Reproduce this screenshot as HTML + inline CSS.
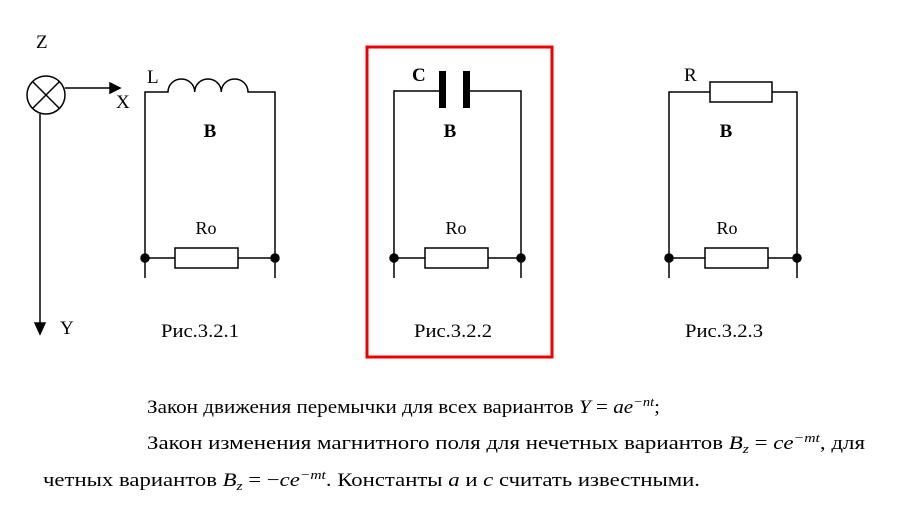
<!DOCTYPE html>
<html><head><style>body{margin:0;background:#fff}svg{display:block}</style></head>
<body>
<svg width="908" height="523" viewBox="0 0 908 523" xmlns="http://www.w3.org/2000/svg" font-family="Liberation Serif, serif" fill="none" stroke="#000" stroke-width="1.5">
<!-- axes -->
<text x="36" y="48" font-size="19" fill="#000" stroke="none">Z</text>
<circle cx="46" cy="95" r="19"/>
<line x1="33" y1="82" x2="59" y2="108"/><line x1="59" y1="82" x2="33" y2="108"/>
<line x1="65" y1="88" x2="110" y2="88"/>
<polygon points="110,83 120,88 110,93" fill="#000"/>
<text x="116" y="108" font-size="19" fill="#000" stroke="none">X</text>
<line x1="40" y1="114" x2="40" y2="325"/>
<polygon points="35,323 40,334 45,323" fill="#000"/>
<text x="60" y="334" font-size="19" fill="#000" stroke="none">Y</text>
<!-- circuit 1 -->
<text x="147" y="83" font-size="19" fill="#000" stroke="none">L</text>
<path d="M145,278 V92 H168 A13.3,13 0 0 1 194.7,92 A13.3,13 0 0 1 221.3,92 A13.3,13 0 0 1 248,92 H275 V278"/>
<text x="210" y="137" font-size="19" font-weight="bold" fill="#000" stroke="none" text-anchor="middle">B</text>
<text x="206" y="234" font-size="18" fill="#000" stroke="none" text-anchor="middle">Ro</text>
<line x1="145" y1="258" x2="175" y2="258"/><line x1="238" y1="258" x2="275" y2="258"/>
<rect x="175" y="248" width="63" height="20"/>
<circle cx="145" cy="258" r="4" fill="#000"/><circle cx="275" cy="258" r="4" fill="#000"/>
<text x="200" y="337" font-size="19" fill="#000" stroke="none" text-anchor="middle" textLength="78" lengthAdjust="spacingAndGlyphs">Рис.3.2.1</text>
<!-- circuit 2 -->
<rect x="367" y="47" width="185" height="310" stroke="#e00" stroke-width="3"/>
<text x="412" y="81" font-size="19" font-weight="bold" fill="#000" stroke="none">C</text>
<path d="M394,278 V91 H442 M466,91 H521 V278"/>
<rect x="439" y="71" width="7" height="37" fill="#000" stroke="none"/>
<rect x="463" y="71" width="7" height="37" fill="#000" stroke="none"/>
<text x="450" y="137" font-size="19" font-weight="bold" fill="#000" stroke="none" text-anchor="middle">B</text>
<text x="456" y="234" font-size="18" fill="#000" stroke="none" text-anchor="middle">Ro</text>
<line x1="394" y1="258" x2="425" y2="258"/><line x1="488" y1="258" x2="521" y2="258"/>
<rect x="425" y="248" width="63" height="20"/>
<circle cx="394" cy="258" r="4" fill="#000"/><circle cx="521" cy="258" r="4" fill="#000"/>
<text x="453" y="337" font-size="19" fill="#000" stroke="none" text-anchor="middle" textLength="78" lengthAdjust="spacingAndGlyphs">Рис.3.2.2</text>
<!-- circuit 3 -->
<text x="684" y="81" font-size="19" fill="#000" stroke="none">R</text>
<path d="M669,278 V92 H710 M772,92 H797 V278"/>
<rect x="710" y="82" width="62" height="20"/>
<text x="726" y="137" font-size="19" font-weight="bold" fill="#000" stroke="none" text-anchor="middle">B</text>
<text x="727" y="234" font-size="18" fill="#000" stroke="none" text-anchor="middle">Ro</text>
<line x1="669" y1="258" x2="705" y2="258"/><line x1="768" y1="258" x2="797" y2="258"/>
<rect x="705" y="248" width="63" height="20"/>
<circle cx="669" cy="258" r="4" fill="#000"/><circle cx="797" cy="258" r="4" fill="#000"/>
<text x="724" y="337" font-size="19" fill="#000" stroke="none" text-anchor="middle" textLength="78" lengthAdjust="spacingAndGlyphs">Рис.3.2.3</text>
<!-- text -->
<g fill="#000" stroke="none" font-size="19">
<text x="147" y="413" textLength="513" lengthAdjust="spacingAndGlyphs">Закон движения перемычки для всех вариантов <tspan font-style="italic">Y</tspan> = <tspan font-style="italic">ae</tspan><tspan font-size="13" dy="-7" font-style="italic">−nt</tspan><tspan dy="7">;</tspan></text>
<text x="147" y="449" textLength="718" lengthAdjust="spacingAndGlyphs">Закон изменения магнитного поля для нечетных  вариантов <tspan font-style="italic">B</tspan><tspan font-size="13" dy="4" font-style="italic">z</tspan><tspan dy="-4"> = </tspan><tspan font-style="italic">ce</tspan><tspan font-size="13" dy="-7" font-style="italic">−mt</tspan><tspan dy="7">, для</tspan></text>
<text x="43" y="486" textLength="657" lengthAdjust="spacingAndGlyphs">четных  вариантов <tspan font-style="italic">B</tspan><tspan font-size="13" dy="4" font-style="italic">z</tspan><tspan dy="-4"> = −</tspan><tspan font-style="italic">ce</tspan><tspan font-size="13" dy="-7" font-style="italic">−mt</tspan><tspan dy="7">. Константы </tspan><tspan font-style="italic">a</tspan> и <tspan font-style="italic">c</tspan> считать известными.</text>
</g>
</svg>
</body></html>
